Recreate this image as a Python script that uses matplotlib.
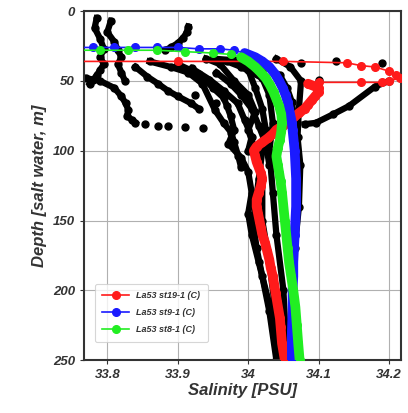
import numpy as np
import matplotlib.pyplot as plt
from matplotlib.ticker import FuncFormatter

## DATA (salinity [PSU], depth [m])

# coloured CTD casts
red_sal = [33.75, 33.90, 34.05, 34.14, 34.16, 34.18, 34.20, 34.21, 34.215, 34.20, 34.19, 34.16, 34.10,
           34.085, 34.10, 34.10, 34.095, 34.09, 34.085, 34.08, 34.072, 34.065, 34.058, 34.05, 34.04,
           34.035, 34.028, 34.02, 34.012, 34.008, 34.01, 34.012, 34.015, 34.018, 34.02, 34.018, 34.015,
           34.012, 34.012, 34.014, 34.016, 34.018, 34.02, 34.024, 34.027, 34.03, 34.032, 34.035,
           34.037, 34.039, 34.041, 34.043, 34.045, 34.046, 34.047, 34.048, 34.05, 34.052]
red_dep = [36, 36, 36, 37, 39, 40, 43, 46, 48, 50, 51, 51, 51,
           52, 55, 58, 61, 64, 67, 70, 73, 76, 79, 82, 85,
           88, 91, 94, 97, 100, 104, 108, 112, 116, 120, 125, 130,
           135, 140, 145, 150, 155, 160, 166, 172, 178, 184, 190,
           196, 202, 208, 214, 220, 226, 232, 238, 244, 250]

blue_sal = [33.75, 33.78, 33.81, 33.84, 33.87, 33.90, 33.93, 33.96, 33.98, 33.995, 34.01, 34.02,
            34.03, 34.038, 34.044, 34.049, 34.053, 34.056, 34.058, 34.06, 34.062, 34.063, 34.064,
            34.065, 34.066, 34.067, 34.068, 34.068, 34.068, 34.067, 34.066, 34.065, 34.064, 34.064,
            34.063, 34.063, 34.062, 34.062]
blue_dep = [26, 26, 26, 26, 26, 26, 27, 27, 28, 30, 33, 36,
            40, 45, 50, 55, 60, 65, 70, 75, 80, 85, 90,
            95, 100, 110, 120, 130, 140, 150, 160, 170, 180, 190,
            200, 215, 230, 250]

green_sal = [33.75, 33.79, 33.83, 33.87, 33.91, 33.95, 33.975, 33.99, 34.0, 34.01, 34.018, 34.025,
             34.031, 34.036, 34.04, 34.044, 34.047, 34.048, 34.047, 34.045, 34.042, 34.04, 34.042,
             34.044, 34.046, 34.048, 34.05, 34.052, 34.054, 34.056, 34.058, 34.061, 34.064, 34.067,
             34.069, 34.071, 34.073]
green_dep = [28, 28, 28, 28, 29, 30, 31, 33, 36, 40, 44, 48,
             53, 58, 63, 68, 74, 80, 86, 92, 98, 104, 110,
             116, 122, 130, 140, 150, 160, 170, 180, 190, 200, 212,
             225, 238, 250]

# black: other casts (each a list of salinity / depth)
black_sal = [
    [33.785, 33.782, 33.79, 33.795, 33.79, 33.795, 33.79, 33.785, 33.78, 33.775],
    [33.805, 33.80, 33.81, 33.815, 33.82, 33.815, 33.82, 33.825],
    [33.915, 33.913, 33.908, 33.90, 33.89, 33.882],
    [33.77, 33.79, 33.81, 33.82, 33.826, 33.83, 33.828, 33.835, 33.84],
    [33.84, 33.857, 33.872, 33.886, 33.90, 33.919, 33.93],
    [33.86, 33.89, 33.915, 33.935, 33.953, 33.965, 33.976, 33.98, 33.986, 33.99],
    [33.90, 33.93, 33.95, 33.965, 33.97, 33.975, 33.98, 33.972, 33.99, 34.00, 34.005, 34.00,
     34.005, 34.015, 34.03, 34.045],
    [33.94, 33.96, 33.98, 34.00, 34.01, 34.00, 34.01, 34.02, 34.02, 34.03, 34.04, 34.05],
    [33.97, 33.99, 34.02, 34.03, 34.035, 34.03, 34.035, 34.04, 34.05, 34.055],
    [33.98, 34.00, 34.01, 34.02, 34.025, 34.02, 34.015, 34.01, 34.008, 34.012, 34.02, 34.03, 34.04],
    [34.04, 34.06, 34.075, 34.072, 34.07, 34.074, 34.072, 34.066, 34.064, 34.062],
    [33.95, 34.00, 34.025, 34.045, 34.055, 34.062, 34.066, 34.068],
    [33.92, 33.945, 33.965, 33.985, 33.995, 34.005, 34.0],
    [33.955, 33.975, 33.99, 34.005, 34.015, 34.025, 34.03],
    [34.20, 34.18, 34.143, 34.12, 34.096, 34.08],
]
black_dep = [
    [5, 12, 20, 27, 33, 38, 42, 46, 49, 52],
    [7, 15, 22, 28, 33, 38, 44, 50],
    [11, 15, 19, 23, 26, 28],
    [48, 50, 55, 61, 66, 71, 75, 78, 80],
    [40, 47, 52, 57, 61, 66, 70],
    [36, 40, 44, 52, 71, 80, 87, 94, 104, 112],
    [38, 45, 55, 62, 68, 75, 85, 95, 105, 115, 130, 145, 160, 180, 210, 250],
    [34, 38, 50, 60, 72, 85, 100, 120, 150, 180, 220, 250],
    [36, 40, 48, 60, 80, 100, 130, 160, 200, 250],
    [35, 42, 55, 70, 85, 100, 120, 140, 155, 170, 190, 215, 250],
    [34, 40, 50, 70, 90, 110, 140, 170, 200, 250],
    [34, 36, 40, 46, 55, 65, 80, 95],
    [41, 49, 57, 66, 78, 90, 100],
    [44, 52, 60, 70, 82, 95, 110],
    [50, 54, 68, 74, 80, 81],
]

# scattered black dots
dot_sal = [33.853, 33.872, 33.886, 33.91, 33.936, 34.124, 34.19, 34.10, 34.075, 34.00, 33.955, 33.925]
dot_dep = [81, 82, 82, 83, 84, 36, 37, 49, 37, 36, 66, 60]

legend_labels = ["La53 st19-1 (C)", "La53 st9-1 (C)", "La53 st8-1 (C)"]


## PLOTTING
plt.rcParams['font.family'] = ['Liberation Sans', 'DejaVu Sans']

fig = plt.figure(figsize=(4.08, 4.13), dpi=100)
ax = fig.add_axes([0.206, 0.128, 0.777, 0.845])

for s, d in zip(black_sal, black_dep):
    ax.plot(s, d, '-o', color='black', lw=4.5, ms=5, zorder=2)
ax.plot(dot_sal, dot_dep, 'o', color='black', ms=5, zorder=2)

# (colour, salinity, depth, index where the dense cast begins, label, zorder)
casts = [('#ff1a1a', red_sal, red_dep, 13, legend_labels[0], 3),
         ('#1a1aff', blue_sal, blue_dep, 9, legend_labels[1], 4),
         ('#22ee22', green_sal, green_dep, 7, legend_labels[2], 5)]
for col, s, d, k, lab, z in casts:
    ax.plot(s[k:], d[k:], '-', color=col, lw=7, solid_capstyle='round', zorder=z)
    ax.plot(s, d, '-o', color=col, lw=1.2, ms=5.5, zorder=z, label=lab)

ax.set_xlim(33.767, 34.217)
ax.set_ylim(250, 0)
ax.set_xticks([33.8, 33.9, 34.0, 34.1, 34.2])
ax.set_yticks([0, 50, 100, 150, 200, 250])
ax.xaxis.set_major_formatter(FuncFormatter(lambda v, p: f"{v:g}"))
ax.grid(color='#b0b0b0', lw=0.8)
ax.set_axisbelow(True)

for sp in ax.spines.values():
    sp.set_color('#333333')
    sp.set_linewidth(1.5)

ax.tick_params(labelsize=9.5, colors='#333333', length=3)
for t in ax.get_xticklabels() + ax.get_yticklabels():
    t.set_fontweight('bold')
    t.set_fontstyle('italic')

ax.set_xlabel("Salinity [PSU]", fontsize=12, fontweight='bold', fontstyle='italic', color='#333333', labelpad=1)
ax.set_ylabel("Depth [salt water, m]", fontsize=12, fontweight='bold', fontstyle='italic', color='#333333', labelpad=4)

leg = ax.legend(loc='lower left', prop={'size': 6.5, 'weight': 'bold', 'style': 'italic'},
                handlelength=3, borderpad=0.8, labelspacing=0.9, frameon=True,
                bbox_to_anchor=(0.02, 0.04))
leg.get_frame().set_edgecolor('#cccccc')
leg.get_frame().set_linewidth(0.8)
for t in leg.get_texts():
    t.set_color('#333333')

plt.savefig("out.png", dpi=100)
